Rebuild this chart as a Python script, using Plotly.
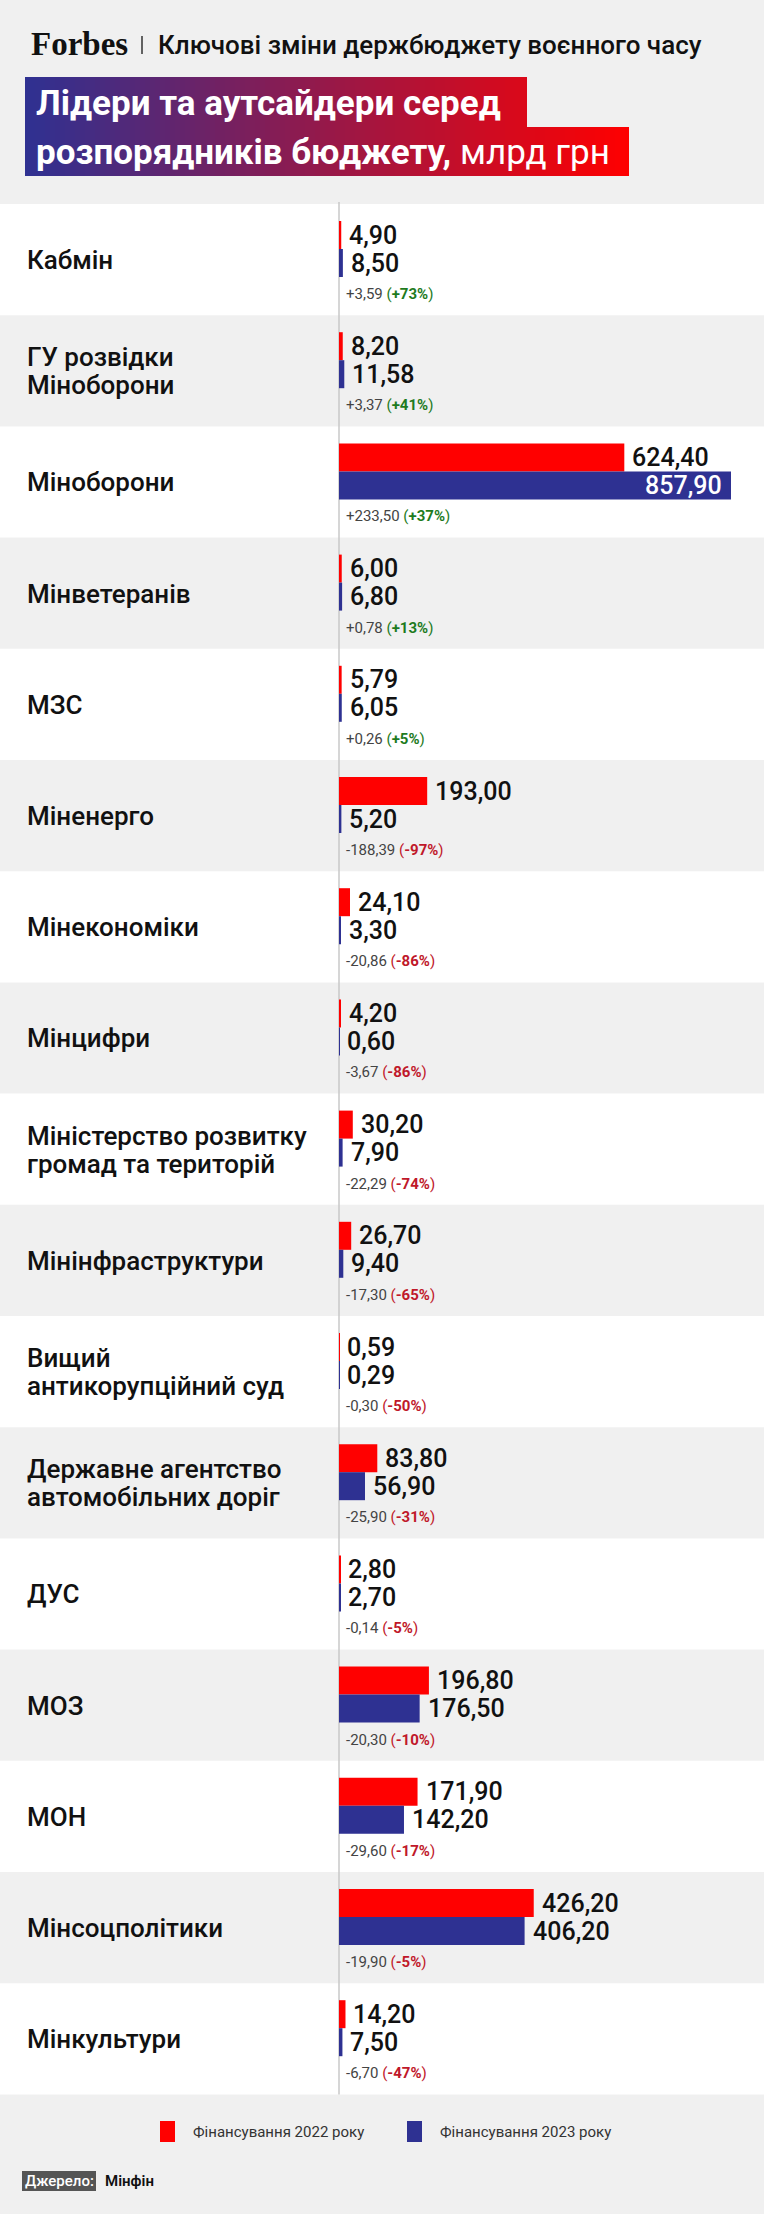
import plotly.graph_objects as go

W, H = 764, 2214

# дані: фінансування, млрд грн
agencies = [
    "Кабмін",
    "ГУ розвідки<br>Міноборони",
    "Міноборони",
    "Мінветеранів",
    "МЗС",
    "Міненерго",
    "Мінекономіки",
    "Мінцифри",
    "Міністерство розвитку<br>громад та територій",
    "Мінінфраструктури",
    "Вищий<br>антикорупційний суд",
    "Державне агентство<br>автомобільних доріг",
    "ДУС",
    "МОЗ",
    "МОН",
    "Мінсоцполітики",
    "Мінкультури",
]
fin_2022 = [4.90, 8.20, 624.40, 6.00, 5.79, 193.00, 24.10, 4.20, 30.20, 26.70,
            0.59, 83.80, 2.80, 196.80, 171.90, 426.20, 14.20]
fin_2023 = [8.50, 11.58, 857.90, 6.80, 6.05, 5.20, 3.30, 0.60, 7.90, 9.40,
            0.29, 56.90, 2.70, 176.50, 142.20, 406.20, 7.50]
change = [3.59, 3.37, 233.50, 0.78, 0.26, -188.39, -20.86, -3.67, -22.29, -17.30,
          -0.30, -25.90, -0.14, -20.30, -29.60, -19.90, -6.70]
change_pct = [73, 41, 37, 13, 5, -97, -86, -86, -74, -65, -50, -31, -5, -10, -17, -5, -47]

legend_names = ["Фінансування 2022 року", "Фінансування 2023 року"]
subtitle = "Ключові зміни держбюджету воєнного часу"
source = "Мінфін"

RED = "#ff0000"
BLUE = "#2e3192"
BG = "#f0f0f0"
FONT = "Roboto"

ZERO_PX, MAX_PX = 339, 731
ROW_TOP, ROW_H = 204, 111.2
n = len(agencies)
scale = (MAX_PX - ZERO_PX) / max(fin_2022 + fin_2023)
x_range = [-ZERO_PX / scale, (W - ZERO_PX) / scale]


def fmt(v, sign=False):
    s = f"{abs(v):.2f}".replace(".", ",")
    if v < 0:
        return "-" + s
    return ("+" if sign else "") + s


def px(x):
    return x / W


rows = [ROW_TOP + i * ROW_H for i in range(n)]
red_y = [r + 31 for r in rows]
blue_y = [r + 59 for r in rows]

fig = go.Figure()
fig.add_trace(go.Bar(x=fin_2022, y=red_y, orientation="h", width=28,
                     marker=dict(color=RED, line_width=0), hoverinfo="skip",
                     name=legend_names[0]))
fig.add_trace(go.Bar(x=fin_2023, y=blue_y, orientation="h", width=28,
                     marker=dict(color=BLUE, line_width=0), hoverinfo="skip",
                     name=legend_names[1]))

shapes = []
annotations = []

# смуги рядків
for i, r in enumerate(rows):
    if i % 2 == 0:
        shapes.append(dict(type="rect", xref="paper", yref="y", x0=0, x1=1,
                           y0=r, y1=r + ROW_H, fillcolor="white",
                           line_width=0, layer="below"))
shapes.append(dict(type="line", xref="x", yref="y", x0=0, x1=0,
                   y0=ROW_TOP - 2, y1=ROW_TOP + n * ROW_H,
                   line=dict(color="#c8c8c8", width=1.5), layer="below"))

# градієнтна плашка заголовка
blue_rgb, red_rgb = (46, 49, 146), (255, 0, 0)
g0, g1 = 25, 629


def grad(x):
    t = min(max((x - g0) / (g1 - g0), 0), 1)
    c = [round(a + (b - a) * t) for a, b in zip(blue_rgb, red_rgb)]
    return f"rgb({c[0]},{c[1]},{c[2]})"


for (bx0, bx1, by0, by1) in [(25, 527, 77, 127.5), (25, 629, 127, 176)]:
    step = 5
    x = bx0
    while x < bx1:
        x2 = min(x + step, bx1)
        shapes.append(dict(type="rect", xref="paper", yref="y",
                           x0=px(x), x1=px(min(x2 + 0.6, bx1)), y0=by0, y1=by1,
                           fillcolor=grad((x + x2) / 2), line_width=0))
        x = x2

annotations.append(dict(xref="paper", yref="y", x=px(34), y=103, xanchor="left",
                        yanchor="middle", showarrow=False,
                        text="<b>Лідери та аутсайдери серед</b>",
                        font=dict(family=FONT, size=35, color="white")))
annotations.append(dict(xref="paper", yref="y", x=px(34), y=152, xanchor="left",
                        yanchor="middle", showarrow=False,
                        text="<b>розпорядників бюджету,</b> млрд грн",
                        font=dict(family=FONT, size=35, color="white")))

# шапка
annotations.append(dict(xref="paper", yref="y", x=px(29), y=44, xanchor="left",
                        yanchor="middle", showarrow=False, text="<b>Forbes</b>",
                        font=dict(family="Liberation Serif", size=33, color="#111")))
shapes.append(dict(type="line", xref="paper", yref="y", x0=px(142), x1=px(142),
                   y0=36, y1=54, line=dict(color="#333", width=1.5)))
annotations.append(dict(xref="paper", yref="y", x=px(156), y=45, xanchor="left",
                        yanchor="middle", showarrow=False, text=subtitle,
                        font=dict(family=FONT, size=26, color="#111", weight=500)))

# підписи рядків
for i, r in enumerate(rows):
    lines = agencies[i].split("<br>")
    for j, line in enumerate(lines):
        annotations.append(dict(xref="paper", yref="y", x=px(25),
                                y=r + 56 + (j - (len(lines) - 1) / 2) * 28,
                                xanchor="left", yanchor="middle", showarrow=False,
                                text=line,
                                font=dict(family=FONT, size=26, color="#111", weight=500)))

# значення
for vals, ys in [(fin_2022, red_y), (fin_2023, blue_y)]:
    for v, y in zip(vals, ys):
        inside = ZERO_PX + v * scale + 90 > W
        annotations.append(dict(xref="x", yref="y", x=v, y=y,
                                xanchor="right" if inside else "left",
                                xshift=-7 if inside else 6,
                                yanchor="middle", showarrow=False, text=fmt(v),
                                font=dict(family=FONT, size=25, weight=500,
                                          color="white" if inside else "#111")))

# зміна
for c, p, r in zip(change, change_pct, rows):
    col = "#1e7b1e" if c >= 0 else "#c0182a"
    txt = (f"<span style='color:#444'>{fmt(c, True)}</span> "
           f"<span style='color:{col}'>(<b>{'+' if p >= 0 else '-'}{abs(p)}%</b>)</span>")
    annotations.append(dict(xref="x", yref="y", x=0, y=r + 90, xanchor="left",
                            xshift=5, yanchor="middle", showarrow=False, text=txt,
                            font=dict(family=FONT, size=15)))

# легенда
for name, col, lx in [(legend_names[0], RED, 160), (legend_names[1], BLUE, 407)]:
    shapes.append(dict(type="rect", xref="paper", yref="y", x0=px(lx), x1=px(lx + 15),
                       y0=2121, y1=2142, fillcolor=col, line_width=0))
    annotations.append(dict(xref="paper", yref="y", x=px(lx + 31), y=2132,
                            xanchor="left", yanchor="middle", showarrow=False,
                            text=name, font=dict(family=FONT, size=15, color="#333")))

# джерело
shapes.append(dict(type="rect", xref="paper", yref="y", x0=px(22), x1=px(96),
                   y0=2171, y1=2191, fillcolor="#555", line_width=0))
annotations.append(dict(xref="paper", yref="y", x=px(59), y=2181, xanchor="center",
                        yanchor="middle", showarrow=False, text="Джерело:",
                        font=dict(family=FONT, size=15, color="white", weight=500)))
annotations.append(dict(xref="paper", yref="y", x=px(103), y=2181, xanchor="left",
                        yanchor="middle", showarrow=False, text=source,
                        font=dict(family=FONT, size=15, color="#111", weight=600)))

fig.update_layout(
    width=W, height=H,
    margin=dict(l=0, r=0, t=0, b=0),
    paper_bgcolor=BG, plot_bgcolor=BG,
    barmode="overlay", showlegend=False,
    xaxis=dict(range=x_range, visible=False, fixedrange=True),
    yaxis=dict(range=[H, 0], visible=False, fixedrange=True),
    shapes=shapes, annotations=annotations,
)

# прибрати стандартний відступ сторінки
fig.write_html("out.html", config={"displayModeBar": False},
               post_script="document.body.style.margin='0';")
